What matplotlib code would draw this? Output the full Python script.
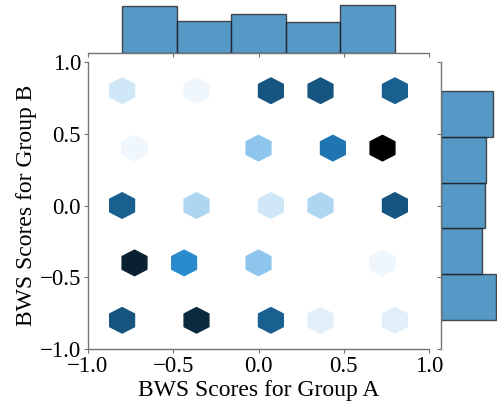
import colorsys
import numpy as np
import matplotlib
matplotlib.use("Agg")
import matplotlib.pyplot as plt
from matplotlib.colors import LinearSegmentedColormap, to_rgb

plt.rcParams['font.family'] = ['Liberation Serif', 'DejaVu Serif']
plt.rcParams['font.size'] = 17
plt.rcParams['xtick.labelsize'] = 16.5
plt.rcParams['ytick.labelsize'] = 16.5

# discrete BWS score levels
levels_a = [-0.8, -0.4, 0.0, 0.4, 0.8]
levels_b = [0.8, 0.4, 0.0, -0.4, -0.8]

# number of item pairs at each (group A, group B) score, rows = group B levels
counts = [
    [4, 2, 20, 20, 19],    # B = 0.8
    [2, 1, 8, 17, 28],     # B = 0.4
    [19, 6, 4, 6, 20],     # B = 0.0
    [25, 15, 8, 1, 2],     # B = -0.4
    [20, 24, 19, 3, 3],    # B = -0.8
]

x, y = [], []
for i, b in enumerate(levels_b):
    for j, a in enumerate(levels_a):
        x += [a] * counts[i][j]
        y += [b] * counts[i][j]
x = np.array(x)
y = np.array(y)

# white -> C0 hue -> black, like seaborn's hex joint cmap
h, l, s = colorsys.rgb_to_hls(*to_rgb("C0"))
cols = [colorsys.hls_to_rgb(h, ll, s) for ll in np.linspace(1, 0, 12)]
cmap = LinearSegmentedColormap.from_list("blend", cols)

fig = plt.figure(figsize=(4.97, 4.07), dpi=100)
W, H = 497, 407
ax = fig.add_axes([88 / W, (H - 349) / H, 341 / W, 287 / H])
ax_top = fig.add_axes([88 / W, (H - 52.7) / H, 341 / W, 50 / H], sharex=ax)
ax_right = fig.add_axes([441 / W, (H - 349) / H, 58 / W, 287 / H], sharey=ax)

ax.hexbin(x, y, gridsize=11, cmap=cmap, mincnt=1)

bar_col = to_rgb("C0")
ax_top.hist(x, bins=5, color=bar_col, alpha=0.75, edgecolor="#1a1a1a", linewidth=1)
ax_right.hist(y, bins=5, orientation="horizontal", color=bar_col, alpha=0.75,
              edgecolor="#1a1a1a", linewidth=1)

ax.set_xlim(-1, 1)
ax.set_ylim(-1, 1)
ticks = [-1.0, -0.5, 0.0, 0.5, 1.0]
ax.set_xticks(ticks)
ax.set_yticks(ticks)
ax.set_xlabel("BWS Scores for Group A", labelpad=2)
ax.set_ylabel("BWS Scores for Group B", labelpad=2)

spine_col = "0.45"
for a in (ax, ax_top, ax_right):
    for sp in a.spines.values():
        sp.set_color(spine_col)
        sp.set_linewidth(1.0)
    a.tick_params(length=3, color=spine_col, direction="out", pad=2)

ax.spines["top"].set_visible(False)
ax.spines["right"].set_visible(False)

for sp in ("top", "left", "right"):
    ax_top.spines[sp].set_visible(False)
ax_top.tick_params(labelbottom=False, left=False, labelleft=False)

for sp in ("top", "bottom", "right"):
    ax_right.spines[sp].set_visible(False)
ax_right.tick_params(labelleft=False, bottom=False, labelbottom=False)

fig.savefig("out.png", dpi=100)
